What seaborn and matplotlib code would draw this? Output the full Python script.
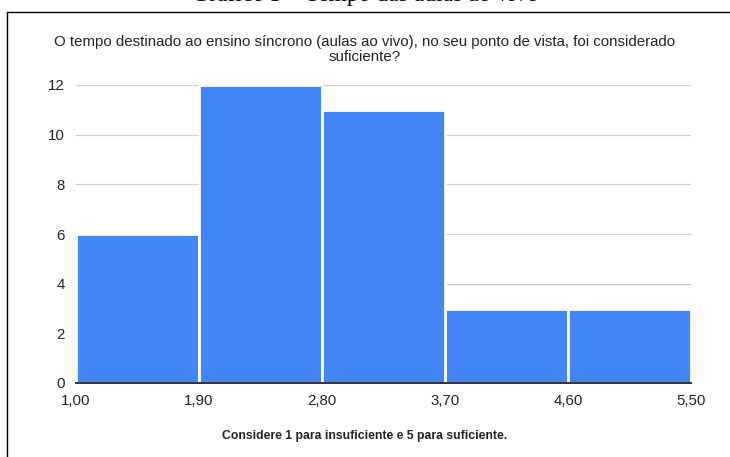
import matplotlib
matplotlib.use("Agg")
import matplotlib.pyplot as plt
import seaborn as sns
import numpy as np
import pandas as pd
from matplotlib.lines import Line2D

# Histogram data: bin edges and counts per bin
bin_edges = [1.00, 1.90, 2.80, 3.70, 4.60, 5.50]
counts = [6, 12, 11, 3, 3]
x_tick_labels = ["1,00", "1,90", "2,80", "3,70", "4,60", "5,50"]
y_ticks = [0, 2, 4, 6, 8, 10, 12]

caption = "Gráfico 3 – Tempo das aulas ao vivo"
title = ("O tempo destinado ao ensino síncrono (aulas ao vivo), no seu ponto de vista, foi considerado\n"
         "suficiente?")
x_label = "Considere 1 para insuficiente e 5 para suficiente."

sns.set_theme(style="white")
plt.rcParams["font.family"] = ["Liberation Sans", "DejaVu Sans"]

centers = [(a + b) / 2 for a, b in zip(bin_edges[:-1], bin_edges[1:])]
df = pd.DataFrame({"valor": centers, "freq": counts})

fig = plt.figure(figsize=(7.30, 4.57), dpi=100)
ax = fig.add_axes([76 / 730, 1 - 383 / 457, (691 - 76) / 730, (383 - 85) / 457])

sns.histplot(data=df, x="valor", weights="freq", bins=bin_edges, ax=ax,
             color="#4285F4", alpha=1.0, edgecolor="white", linewidth=2.0, zorder=3)

ax.set_xlim(bin_edges[0], bin_edges[-1])
ax.set_ylim(0, 12)
ax.set_xticks(bin_edges)
ax.set_xticklabels(x_tick_labels)
ax.set_yticks(y_ticks)
ax.set_yticklabels([str(v) for v in y_ticks])
ax.tick_params(axis="both", length=0, labelsize=10.8, colors="#222222")
ax.tick_params(axis="x", pad=8)
ax.tick_params(axis="y", pad=8)
ax.set_xlabel("")
ax.set_ylabel("")
ax.grid(axis="y", color="#d0d0d0", linewidth=0.9, zorder=0)
ax.set_axisbelow(True)
for side in ["top", "right", "left"]:
    ax.spines[side].set_visible(False)
ax.spines["bottom"].set_color("#333333")
ax.spines["bottom"].set_linewidth(1.4)
ax.spines["bottom"].set_zorder(4)

fig.text(0.5, 1 - 49.5 / 457, title, ha="center", va="center", fontsize=10.8, color="#222222",
         linespacing=1.12)
fig.text(0.5, 1 - 436 / 457, x_label, ha="center", va="center", fontsize=8.8, color="#222222",
         fontweight="bold")

# Caption sitting above the framed chart
fig.text(0.5, 1 - 1.5 / 457, caption, ha="center", va="baseline", fontsize=17,
         family=["Liberation Serif", "DejaVu Serif"], color="black")

# Frame lines: top and left
fig.add_artist(Line2D([7 / 730, 1.0], [1 - 12 / 457, 1 - 12 / 457], color="black",
                      linewidth=1.0, transform=fig.transFigure))
fig.add_artist(Line2D([7 / 730, 7 / 730], [0.0, 1 - 12 / 457], color="black",
                      linewidth=1.0, transform=fig.transFigure))

fig.savefig("out.png", dpi=100)
